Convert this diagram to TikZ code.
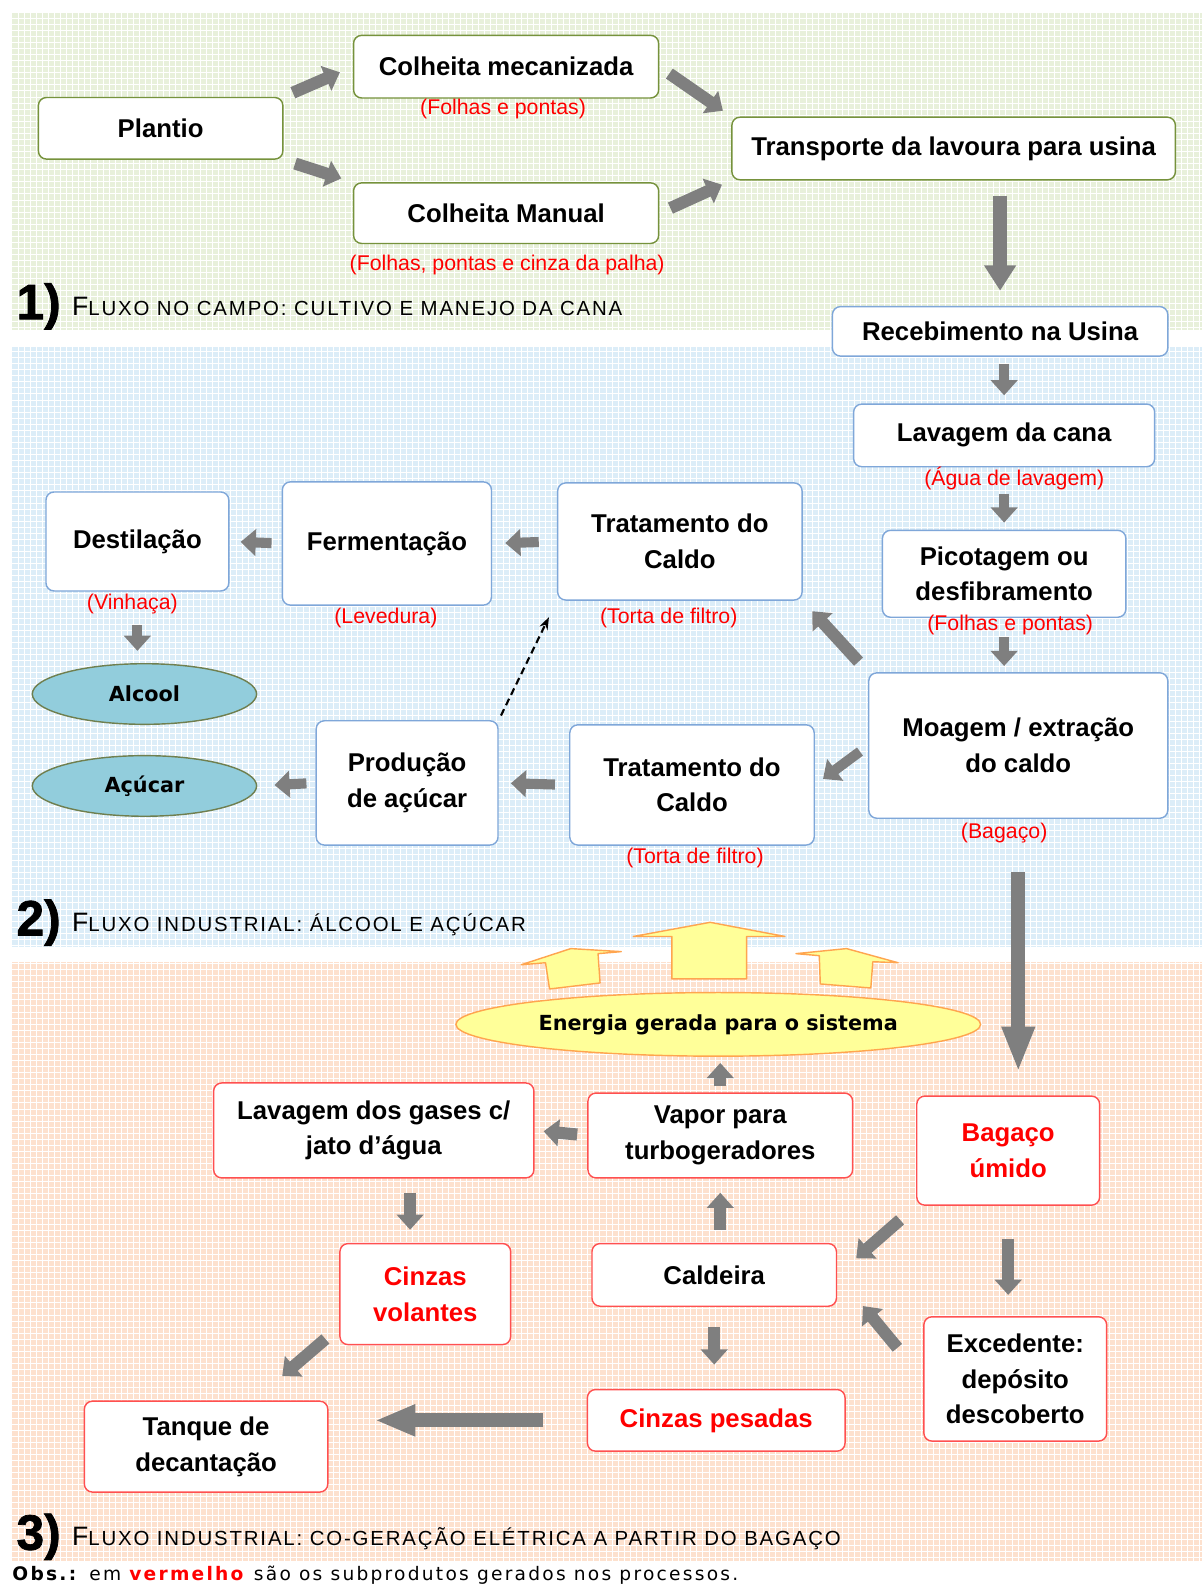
\documentclass[tikz,border=0pt]{standalone}
\usepackage{fontspec}
\setmainfont{Liberation Sans}
\newfontfamily\capsfont[LetterSpace=9]{Liberation Sans}
\newfontfamily\obsfont[LetterSpace=12]{DejaVu Sans}
\newfontfamily\ovalfont{DejaVu Sans}
\newfontfamily\numfont[BoldFeatures={FakeBold=1.5}]{Liberation Sans}
\usetikzlibrary{arrows.meta,shapes.geometric}

\definecolor{fieldbg}{HTML}{E8F0DB}
\definecolor{plantbg}{HTML}{DCEDF8}
\definecolor{powerbg}{HTML}{FDE1CE}
\definecolor{fieldline}{HTML}{76923C}
\definecolor{plantline}{HTML}{7FA7D9}
\definecolor{powerline}{HTML}{FF5050}
\definecolor{bytext}{HTML}{FF0000}
\definecolor{arrowgray}{HTML}{7F7F7F}
\definecolor{prodfill}{HTML}{92CDDC}
\definecolor{prodline}{HTML}{6F7F4F}
\definecolor{energyfill}{HTML}{FFFF99}
\definecolor{energyline}{HTML}{FFA54F}

\newcommand{\boxfont}{\fontsize{14.5}{20}\selectfont\bfseries}
\newcommand{\subfont}{\fontsize{12}{14}\selectfont}

\tikzset{
  wh/.style 2 args={minimum width=#1*0.02cm, minimum height=#2*0.02cm},
  procbox/.style={draw, rounded corners=0.16cm, fill=white, line width=0.8pt,
    align=center, font=\boxfont},
  fieldbox/.style={procbox, draw=fieldline},
  plantbox/.style={procbox, draw=plantline},
  powerbox/.style={procbox, draw=powerline},
  redtext/.style={text=bytext},
  byprod/.style={text=bytext, font=\subfont, inner sep=0pt},
  product/.style={ellipse, draw=prodline, fill=prodfill, line width=0.8pt,
    font=\ovalfont\fontsize{11.7}{14}\selectfont\bfseries, wh={222}{60}},
  energy/.style={ellipse, draw=energyline, fill=energyfill, line width=0.8pt,
    font=\ovalfont\fontsize{11.7}{14}\selectfont\bfseries, wh={516}{63}},
  sunarrow/.style={draw=energyline, fill=energyfill, line width=0.8pt, line join=round},
  fat/.style={draw=arrowgray, line width=0.24cm,
    -{Triangle[width=0.52cm,length=0.3cm]}},
  bigfat/.style={draw=arrowgray, line width=0.28cm,
    -{Triangle[width=0.6cm,length=0.5cm]}},
  stagenum/.style={anchor=base west, inner sep=0pt,
    font=\numfont\fontsize{28}{28}\selectfont\bfseries},
  stagetxt/.style={anchor=base west, inner sep=0pt,
    font=\capsfont\fontsize{11.5}{12}\selectfont}
}

\begin{document}
\begin{tikzpicture}[x=0.02cm, y=-0.02cm]
  \useasboundingbox (0,0) rectangle (1191,1568);
  \fill[white] (0,0) rectangle (1191,1568);
  % panel backgrounds
  \foreach \bg/\top/\bot in {fieldbg/12/327, plantbg/343/937, powerbg/952/1545} {
    \fill[\bg] (12,\top) rectangle (1190,\bot);
    \draw[white, line width=0.5pt, step=0.12cm] (12,\top) grid (1190,\bot);
  }

  % 1) campo
  \node[fieldbox, wh={242}{61}] (plantio) at (159,127) {Plantio};
  \node[fieldbox, wh={302}{62}] (mecan) at (501,66) {Colheita mecanizada};
  \node[byprod] (mecanres) at (498,108) {(Folhas e pontas)};
  \node[fieldbox, wh={302}{60}] (manual) at (501,211) {Colheita Manual};
  \node[byprod] (manualres) at (502,262) {(Folhas, pontas e cinza da palha)};
  \node[fieldbox, wh={439}{62}] (transp) at (944,147) {Transporte da lavoura para usina};
  \node[stagenum] (num1) at (16,316) {1)};
  \node[stagetxt] (txt1) at (71,312) {{\fontsize{15}{15}\selectfont F}LUXO NO CAMPO: CULTIVO E MANEJO DA CANA};

  % 2) industria
  \node[plantbox, wh={332}{49}] (receb) at (990,328) {Recebimento na Usina};
  \node[plantbox, wh={298}{62}] (lavagem) at (994,431) {Lavagem da cana};
  \node[byprod] (lavres) at (1004,474) {(Água de lavagem)};
  \node[plantbox, wh={241}{86}] (picot) at (994,568) {Picotagem ou\\desfibramento};
  \node[byprod] (picotres) at (1000,619) {(Folhas e pontas)};
  \node[plantbox, wh={296}{144}] (moagem) at (1008,738) {Moagem / extração\\do caldo};
  \node[byprod] (moagemres) at (994,825) {(Bagaço)};
  \node[plantbox, wh={242}{116}] (tratA) at (673,536) {Tratamento do\\Caldo};
  \node[byprod] (tratAres) at (662,612) {(Torta de filtro)};
  \node[plantbox, wh={207}{122}] (ferm) at (383,538) {Fermentação};
  \node[byprod] (fermres) at (382,612) {(Levedura)};
  \node[plantbox, wh={181}{98}] (destil) at (136,536) {Destilação};
  \node[byprod] (destilres) at (131,598) {(Vinhaça)};
  \node[product] (alcool) at (143,687) {Alcool};
  \node[product] (acucar) at (143,778) {Açúcar};
  \node[plantbox, wh={180}{123}] (prod) at (403,775) {Produção\\de açúcar};
  \node[plantbox, wh={242}{119}] (tratB) at (685,777) {Tratamento do\\Caldo};
  \node[byprod] (tratBres) at (688,849) {(Torta de filtro)};
  \node[stagenum] (num2) at (16,926) {2)};
  \node[stagetxt] (txt2) at (71,922) {{\fontsize{15}{15}\selectfont F}LUXO INDUSTRIAL: ÁLCOOL E AÇÚCAR};

  % 3) co-geracao
  \draw[sunarrow] (665,969) -- (665,927) -- (627,927) -- (703,913) -- (777,927)
    -- (739,927) -- (739,969) -- cycle;
  \draw[sunarrow] (544,979) -- (540,953) -- (516,955) -- (565,939) -- (615,942)
    -- (592,944) -- (594,973) -- cycle;
  \draw[sunarrow] (812,974) -- (811,946) -- (788,944) -- (838,939) -- (889,953)
    -- (864,952) -- (862,978) -- cycle;
  \node[energy] (energia) at (711,1014) {Energia gerada para o sistema};
  \node[powerbox, wh={262}{84}] (vapor) at (713,1124) {Vapor para\\turbogeradores};
  \node[powerbox, wh={317}{94}] (gases) at (370,1119) {Lavagem dos gases c/\\jato d’água};
  \node[powerbox, redtext, wh={181}{108}] (bagaco) at (998,1139) {Bagaço\\úmido};
  \node[powerbox, redtext, wh={169}{100}] (cinzvol) at (421,1281) {Cinzas\\volantes};
  \node[powerbox, wh={242}{62}] (caldeira) at (707,1262) {Caldeira};
  \node[powerbox, wh={181}{123}] (exced) at (1005,1365) {Excedente:\\depósito\\descoberto};
  \node[powerbox, redtext, wh={255}{61}] (cinzpes) at (709,1406) {Cinzas pesadas};
  \node[powerbox, wh={241}{90}] (tanque) at (204,1432) {Tanque de\\decantação};
  \node[stagenum] (num3) at (16,1534) {3)};
  \node[stagetxt] (txt3) at (71,1530) {{\fontsize{15}{15}\selectfont F}LUXO INDUSTRIAL: CO-GERAÇÃO ELÉTRICA A PARTIR DO BAGAÇO};
  \node[anchor=base west, inner sep=0pt, font=\obsfont\fontsize{10.5}{11}\selectfont] (obs) at (12,1565)
    {\textbf{Obs.:} em \textcolor{bytext}{\textbf{vermelho}} são os subprodutos gerados nos processos.};

  % fluxo no campo
  \draw[fat, shorten <=0.2cm, shorten >=0.28cm] (plantio.north east) -- (mecan.west);
  \draw[fat, shorten <=0.24cm, shorten >=0.24cm] (plantio.south east) -- (manual.north west);
  \draw[fat, shorten <=0.24cm, shorten >=0.2cm] (mecan.east) -- (transp.north west);
  \draw[fat, shorten <=0.24cm, shorten >=0.2cm] (manual.east) -- (transp.south west);
  \draw[bigfat, shorten <=0.3cm, shorten >=0.3cm] (receb |- transp.south) -- (receb.north);
  % fluxo industrial
  \draw[fat, line width=0.2cm, shorten <=0.14cm, shorten >=0.16cm] (lavagem.north |- receb.south) -- (lavagem.north);
  \draw[fat, line width=0.2cm, shorten <=0.52cm, shorten >=0.14cm] (picot.north |- lavagem.south) -- (picot.north);
  \draw[fat, line width=0.2cm, shorten <=0.38cm, shorten >=0.12cm] (picot.south) -- (picot.south |- moagem.north);
  \draw[fat, shorten <=0.28cm, shorten >=0.28cm] (moagem.north west) -- (tratA.south east);
  \draw[fat, line width=0.2cm, shorten <=0.2cm, shorten >=0.2cm] (moagem.west) -- (tratB.east);
  \draw[fat, line width=0.2cm, shorten <=0.36cm, shorten >=0.26cm] (tratA.west) -- (ferm.east);
  \draw[fat, line width=0.2cm, shorten <=0.2cm, shorten >=0.22cm] (ferm.west) -- (destil.east);
  \draw[fat, line width=0.2cm, shorten <=0.66cm, shorten >=0.24cm] (destil.south) -- (destil.south |- alcool.north);
  \draw[fat, line width=0.2cm, shorten <=0.18cm, shorten >=0.34cm] (prod.west) -- (acucar.east);
  \draw[fat, line width=0.2cm, shorten <=0.28cm, shorten >=0.24cm] (tratB.west) -- (prod.east);
  \draw[dash pattern=on 4pt off 2.5pt, line width=1.2pt, -{Stealth[length=7pt,width=5pt]},
    shorten <=0.1cm, shorten >=0.36cm] (prod.north east) -- (tratA.south west);
  \draw[bigfat, -{Triangle[width=0.6cm,length=0.9cm]}, shorten <=1.04cm, shorten >=0.46cm]
    (moagem.south) -- (moagem.south |- bagaco.north);
  % co-geracao
  \draw[fat, shorten <=0.12cm, shorten >=0.12cm] (vapor.north) -- (vapor.north |- energia.south);
  \draw[fat, shorten <=0.2cm, shorten >=0.18cm] (vapor.west) -- (gases.east);
  \draw[fat, shorten <=0.28cm, shorten >=0.26cm] (gases.307) -- (gases.307 |- cinzvol.north);
  \draw[fat, shorten <=0.26cm, shorten >=0.28cm] (vapor.south |- caldeira.north) -- (vapor.south);
  \draw[fat, shorten <=0.42cm, shorten >=0.5cm] (bagaco.south west) -- (caldeira.east);
  \draw[fat, shorten <=0.66cm, shorten >=0.42cm] (bagaco.south) -- (bagaco.south |- exced.north);
  \draw[fat, shorten <=0.8cm, shorten >=0.8cm] (exced.west) -- (caldeira.east);
  \draw[fat, shorten <=0.4cm, shorten >=0.48cm] (caldeira.south) -- (caldeira.south |- cinzpes.north);
  \draw[bigfat, -{Triangle[width=0.58cm,length=0.8cm]}, shorten <=0.86cm, shorten >=0.92cm]
    (cinzpes.west) -- (cinzpes.west -| tanque.east);
  \draw[fat, shorten <=0.36cm, shorten >=0.74cm] (cinzvol.201) -- (tanque.44);
\end{tikzpicture}
\end{document}
